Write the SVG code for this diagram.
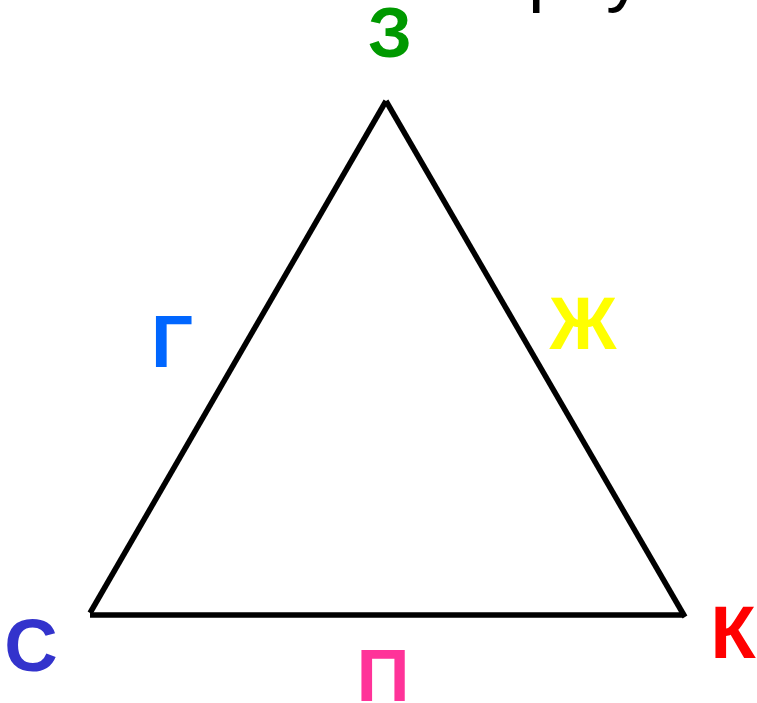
<svg xmlns="http://www.w3.org/2000/svg" width="757" height="703" viewBox="0 0 757 703">
<style>
.lbl{font-family:"Liberation Sans",Arial,sans-serif;font-weight:bold;font-size:74px;text-anchor:middle}
.ttl{font-family:"Liberation Sans",Arial,sans-serif;font-size:74px;fill:#000}
.edge{stroke:#000;stroke-width:5.5;fill:none;stroke-linecap:butt}
</style>
<rect width="757" height="703" fill="#fff"/>
<g id="title">
<text class="ttl" x="528" y="-2">р</text>
<text class="ttl" x="606" y="-2">у</text>
</g>
<g id="connectors">
<line class="edge" x1="386" y1="101" x2="90" y2="613"/>
<line class="edge" x1="90" y1="615" x2="683" y2="615"/>
<line class="edge" x1="386" y1="101" x2="685" y2="617"/>
</g>
<g id="node-Z"><text class="lbl" x="390" y="57" fill="#009900" style="font-size:70px">З</text></g>
<g id="node-G"><text class="lbl" x="172" y="367" fill="#0066ff">Г</text></g>
<g id="node-Zh"><text class="lbl" x="583" y="349" fill="#ffff00">Ж</text></g>
<g id="node-S"><text class="lbl" x="31" y="671" fill="#3333cc">С</text></g>
<g id="node-P"><text class="lbl" x="383" y="701" fill="#ff3399">П</text></g>
<g id="node-K"><text class="lbl" x="733" y="658" fill="#ff0000">К</text></g>
</svg>
